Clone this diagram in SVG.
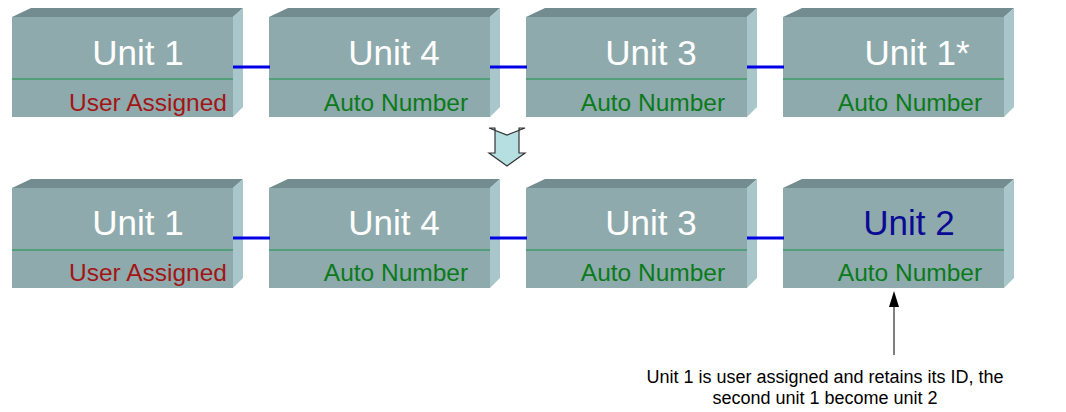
<svg xmlns="http://www.w3.org/2000/svg" width="1066" height="412" viewBox="0 0 1066 412">
<style>
.front{fill:#8eaaac}
.top{fill:#728c8f}
.side{fill:#a9c7ca}
.sep{stroke:#3c9a68;stroke-width:1.5}
.unit{font-family:"Liberation Sans",Arial,sans-serif;font-size:35px;fill:#ffffff;text-anchor:middle}
.lbl{font-family:"Liberation Sans",Arial,sans-serif;font-size:24.5px;text-anchor:middle}
.red{fill:#a31515}
.grn{fill:#0b7a1b}
.conn{stroke:#0000e6;stroke-width:3;fill:none}
.note{font-family:"Liberation Sans",Arial,sans-serif;font-size:18px;fill:#000;text-anchor:middle}
</style>
<defs>
<g id="box">
<rect class="front" x="0" y="0" width="221" height="100"/>
<polygon class="top" points="0,0 19,-9 231,-9 221,0"/>
<polygon class="side" points="221,0 231,-9 231,90 221,100"/>
<line class="sep" x1="0" y1="62" x2="221" y2="62"/>
</g>
</defs>
<g id="r1u1" transform="translate(12,17)"><use href="#box"/><text class="unit" x="126" y="48">Unit 1</text><text class="lbl red" x="136" y="94">User Assigned</text></g>
<g id="r1u4" transform="translate(269,17)"><use href="#box"/><text class="unit" x="125" y="48">Unit 4</text><text class="lbl grn" x="127" y="94">Auto Number</text></g>
<g id="r1u3" transform="translate(526,17)"><use href="#box"/><text class="unit" x="125" y="48">Unit 3</text><text class="lbl grn" x="127" y="94">Auto Number</text></g>
<g id="r1u1b" transform="translate(783,17)"><use href="#box"/><text class="unit" x="134" y="48">Unit 1*</text><text class="lbl grn" x="127" y="94">Auto Number</text></g>
<g id="down-arrow">
<polygon points="489,128 507,135 525,128 519,128 519,153 525,153 507,166 489,153 495,153 495,128" fill="#b6dfe2" stroke="#333" stroke-width="1.2" stroke-linejoin="miter"/>
</g>
<g id="r2u1" transform="translate(12,188)"><use href="#box"/><text class="unit" x="126" y="47">Unit 1</text><text class="lbl red" x="136" y="93">User Assigned</text></g>
<g id="r2u4" transform="translate(269,188)"><use href="#box"/><text class="unit" x="125" y="47">Unit 4</text><text class="lbl grn" x="127" y="93">Auto Number</text></g>
<g id="r2u3" transform="translate(526,188)"><use href="#box"/><text class="unit" x="125" y="47">Unit 3</text><text class="lbl grn" x="127" y="93">Auto Number</text></g>
<g id="r2u2" transform="translate(783,188)"><use href="#box"/><text class="unit" x="126" y="47" style="fill:#0a0a96">Unit 2</text><text class="lbl grn" x="127" y="93">Auto Number</text></g>
<g id="connectors">
<line class="conn" x1="233" y1="67" x2="270" y2="67"/>
<line class="conn" x1="490" y1="67" x2="527" y2="67"/>
<line class="conn" x1="747" y1="67" x2="784" y2="67"/>
<line class="conn" x1="233" y1="238" x2="270" y2="238"/>
<line class="conn" x1="490" y1="238" x2="527" y2="238"/>
<line class="conn" x1="747" y1="238" x2="784" y2="238"/>
<line x1="894" y1="355" x2="894" y2="300" stroke="#555" stroke-width="1.5"/>
<polygon points="894,291 889,307 899,307" fill="#000"/>
</g>
<g id="note">
<text class="note" x="825" y="383">Unit 1 is user assigned and retains its ID, the</text>
<text class="note" x="825" y="404">second unit 1 become unit 2</text>
</g>
</svg>
